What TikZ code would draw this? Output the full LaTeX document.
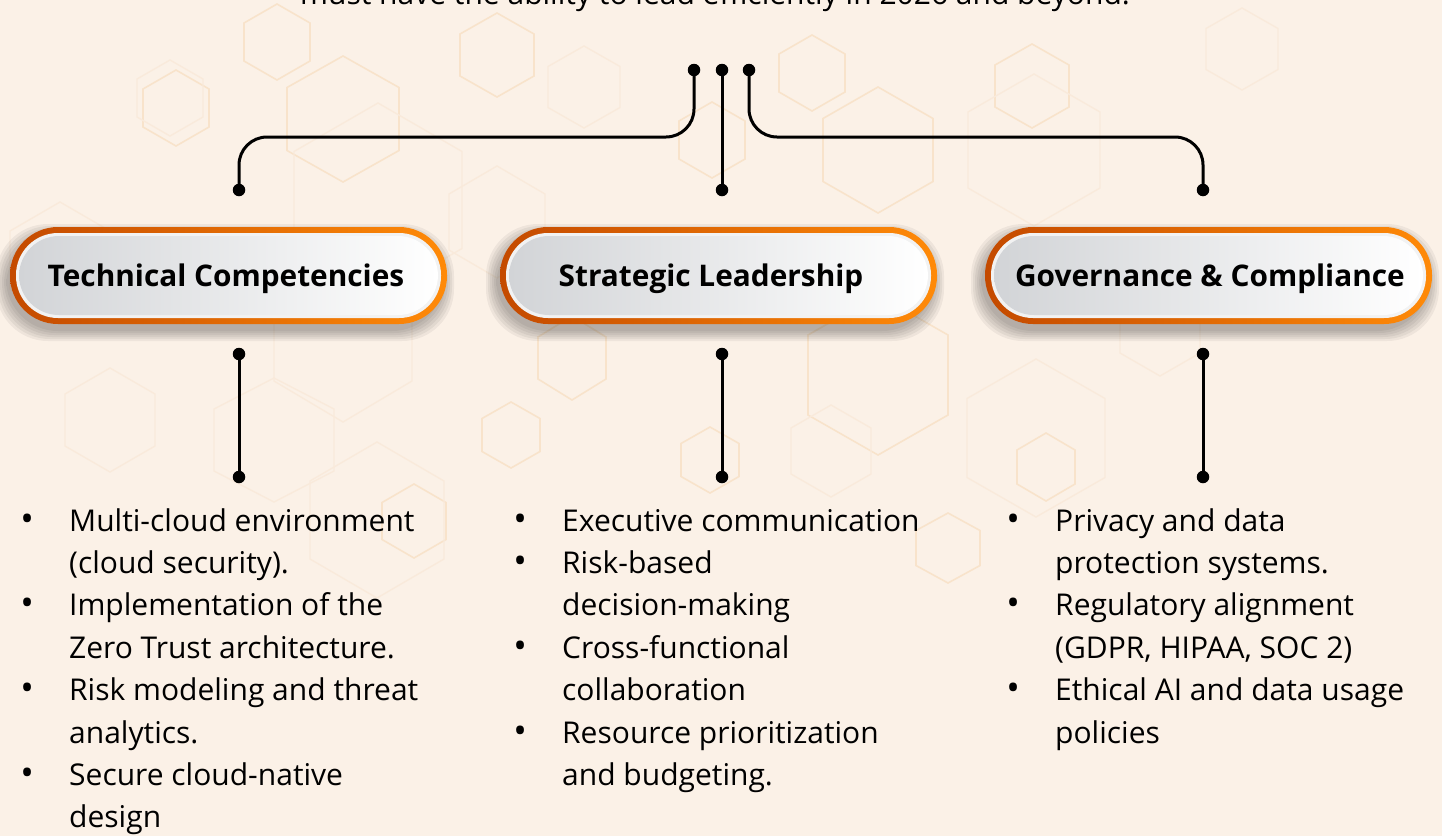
\documentclass[tikz,border=0pt]{standalone}
\usepackage{fontspec}
\setmainfont{Open Sans}
\usetikzlibrary{calc}
\definecolor{bgcol}{HTML}{FBF1E7}
\definecolor{hexcol}{HTML}{F8E3CB}
\definecolor{hexfaint}{HTML}{F9EADB}
\definecolor{orgL}{HTML}{C44A00}
\definecolor{orgR}{HTML}{FF8A08}
\definecolor{grayL}{HTML}{D2D4D7}
\definecolor{rimcol}{HTML}{F2F2F2}
\newcommand\hexg[5]{\draw[#5] ({#1},{#2-#4}) -- ({#1+#3},{#2-#4/2}) -- ({#1+#3},{#2+#4/2}) -- ({#1},{#2+#4}) -- ({#1-#3},{#2+#4/2}) -- ({#1-#3},{#2-#4/2}) -- cycle;}
\tikzset{
  hexa/.style={draw=hexcol, line width=1.6pt},
  hexb/.style={draw=hexfaint, line width=1.4pt},
  dotnode/.style={circle, fill=black, inner sep=0pt, minimum size=12.5pt},
  conn/.style={line width=3pt, black, rounded corners=28pt},
  title/.style={font=\fontsize{29.8}{34}\selectfont\bfseries, text=black, inner sep=0pt},
  bullets/.style={font=\fontsize{30}{42.4}\selectfont, text=black, inner sep=0pt, anchor=base west},
  topline/.style={font=\fontsize{30}{36}\selectfont, text=black, inner sep=0pt, anchor=base}
}
\newcommand\bl{\makebox[42pt][l]{\makebox[0pt][c]{\scalebox{1.2}{•}}}}
\newcommand\ind{\hspace*{42pt}}
\begin{document}
\begin{tikzpicture}[x=1pt,y=-1pt]
\clip (0,0) rectangle (1442,836);
\fill[bgcol] (0,0) rectangle (1442,836);
% background hexagons
\hexg{277}{42}{33}{38}{hexa}
\hexg{176}{108}{33}{38}{hexa}
\hexg{170}{98}{33}{38}{hexb}
\hexg{343}{119}{56}{63}{hexa}
\hexg{378}{200}{84}{97}{hexb}
\hexg{497}{55}{37}{42}{hexa}
\hexg{584}{87}{36}{41}{hexb}
\hexg{712}{140}{33}{38}{hexa}
\hexg{812}{73}{33}{38}{hexa}
\hexg{878}{150}{55}{63}{hexa}
\hexg{1032}{86}{37}{42}{hexa}
\hexg{1034}{150}{66}{76}{hexb}
\hexg{1242}{49}{36}{41}{hexb}
\hexg{497}{222}{48}{56}{hexb}
\hexg{572}{358}{34}{42}{hexa}
\hexg{343}{340}{69}{82}{hexb}
\hexg{511}{435}{29}{33}{hexa}
\hexg{710}{460}{29}{33}{hexa}
\hexg{878}{375}{70}{80}{hexa}
\hexg{831}{451}{40}{46}{hexb}
\hexg{1036}{438}{69}{79}{hexb}
\hexg{1046}{467}{29}{34}{hexa}
\hexg{414}{521}{32}{37}{hexa}
\hexg{948}{548}{32}{35}{hexa}
\hexg{377}{520}{67}{78}{hexb}
\hexg{274}{440}{60}{62}{hexb}
\hexg{60}{260}{50}{58}{hexb}
\hexg{110}{420}{45}{52}{hexb}
\hexg{1160}{330}{40}{46}{hexb}
% top (cut) sentence
\node[topline] (intro) at (715,4) {must have the ability to lead efficiently in 2026 and beyond.};
% pills
\foreach \l/\r/\nm/\tx/\txt in {10/447/tc/226/Technical Competencies, 500/937/sl/711/Strategic Leadership, 985/1432/gc/1210/Governance \& Compliance}{
  \foreach \k in {0,2,4,6,8,10}{
    \fill[black, opacity=0.05, rounded corners=52pt] (\l-4-\k,234-\k) rectangle (\r-3+\k,331+\k);
  }
  \path[left color=orgL, right color=orgR, rounded corners=48pt] (\l,227) rectangle (\r,324);
  \path[fill=rimcol, rounded corners=42pt] (\l+6,233) rectangle (\r-6,318);
  \path[left color=grayL, right color=white, rounded corners=40pt] (\l+9,236) rectangle (\r-9,315);
  \node[title] (\nm) at (\tx,279) {\txt};
}
% connector dots
\node[dotnode] (t1) at (694,70) {};
\node[dotnode] (t2) at (722,70) {};
\node[dotnode] (t3) at (749,70) {};
\node[dotnode] (a1) at (239,190) {};
\node[dotnode] (a2) at (722,190) {};
\node[dotnode] (a3) at (1203,190) {};
\node[dotnode] (b1) at (239,354) {};
\node[dotnode] (b2) at (722,354) {};
\node[dotnode] (b3) at (1203,354) {};
\node[dotnode] (c1) at (239,477) {};
\node[dotnode] (c2) at (722,477) {};
\node[dotnode] (c3) at (1203,477) {};
\coordinate (hy) at (0,137);
\draw[conn] (t1.center) -- (t1.center |- hy) -- (a1.center |- hy) -- (a1.center);
\draw[conn] (t3.center) -- (t3.center |- hy) -- (a3.center |- hy) -- (a3.center);
\draw[conn] (t2.center) -- (a2.center);
\draw[conn] (b1.center) -- (c1.center);
\draw[conn] (b2.center) -- (c2.center);
\draw[conn] (b3.center) -- (c3.center);
% bullet lists
\node[bullets] (l1) at (27,531) {\begin{tabular}[t]{@{}l@{}}
\bl Multi-cloud environment\\
\ind (cloud security).\\
\bl Implementation of the\\
\ind Zero Trust architecture.\\
\bl Risk modeling and threat\\
\ind analytics.\\
\bl Secure cloud-native\\
\ind design
\end{tabular}};
\node[bullets] (l2) at (520,531) {\begin{tabular}[t]{@{}l@{}}
\bl Executive communication\\
\bl Risk-based\\
\ind decision-making\\
\bl Cross-functional\\
\ind collaboration\\
\bl Resource prioritization\\
\ind and budgeting.
\end{tabular}};
\node[bullets] (l3) at (1013,531) {\begin{tabular}[t]{@{}l@{}}
\bl Privacy and data\\
\ind protection systems.\\
\bl Regulatory alignment\\
\ind (GDPR, HIPAA, SOC 2)\\
\bl Ethical AI and data usage\\
\ind policies
\end{tabular}};
\end{tikzpicture}
\end{document}
